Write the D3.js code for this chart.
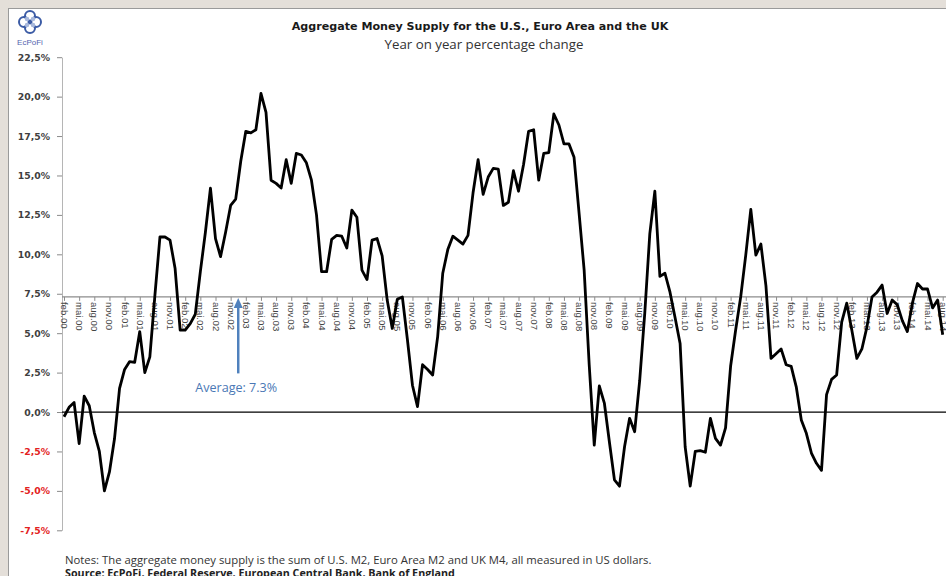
<!DOCTYPE html>
<html><head><meta charset="utf-8">
<script src="https://cdn.jsdelivr.net/npm/d3@7"></script>
<style>body{margin:0;background:#fff;} svg{display:block}</style>
</head><body>
<script>
// ---- data ----
const monthNames = ["jan","feb","mar","apr","mai","jun","jul","aug","sep","okt","nov","des"];
const firstMonth = 1;   // feb
const firstYear = 2000;
const values = [
 -0.3, 0.3, 0.6, -2.0, 1.0, 0.4, -1.3, -2.5, -5.0, -3.8, -1.7, 1.5,
 2.7, 3.2, 3.15, 5.1, 2.5, 3.5, 7.4, 11.1, 11.1, 10.9, 9.1, 5.2,
 5.2, 5.6, 6.2, 8.9, 11.4, 14.2, 11.0, 9.85, 11.4, 13.1, 13.5, 15.9,
 17.8, 17.7, 17.9, 20.2, 19.0, 14.7, 14.5, 14.2, 16.0, 14.5, 16.4, 16.3,
 15.8, 14.7, 12.5, 8.9, 8.9, 10.95, 11.2, 11.15, 10.4, 12.8, 12.35, 9.0,
 8.4, 10.9, 11.0, 9.9, 7.1, 5.3, 7.15, 7.3, 4.6, 1.7, 0.34, 3.0,
 2.7, 2.35, 4.8, 8.8, 10.3, 11.15, 10.9, 10.65, 11.2, 13.9, 16.0, 13.8,
 14.9, 15.45, 15.4, 13.1, 13.3, 15.3, 14.0, 15.7, 17.8, 17.9, 14.7, 16.4,
 16.45, 18.9, 18.2, 17.0, 17.0, 16.15, 12.6, 9.0, 3.0, -2.1, 1.65, 0.57,
 -1.9, -4.3, -4.7, -2.2, -0.4, -1.25, 2.0, 6.25, 11.3, 14.0, 8.6, 8.8,
 7.6, 6.0, 4.35, -2.2, -4.7, -2.5, -2.45, -2.55, -0.4, -1.67, -2.1, -1.0,
 2.9, 5.2, 7.3, 9.95, 12.85, 9.95, 10.65, 8.0, 3.4, 3.7, 4.0, 3.0,
 2.9, 1.6, -0.5, -1.35, -2.6, -3.25, -3.7, 1.1, 2.07, 2.35, 5.7, 6.9,
 5.2, 3.4, 4.0, 5.4, 7.3, 7.6, 8.05, 6.25, 7.1, 6.8, 5.8, 5.1,
 6.9, 8.15, 7.8, 7.8, 6.6, 7.1, 4.9
];
const categories = values.map((v, i) => {
  const m = (firstMonth + i) % 12;
  const yr = firstYear + Math.floor((firstMonth + i) / 12);
  return monthNames[m] + "." + String(yr % 100).padStart(2, "0");
});
const tickLabels = categories.filter((c, i) => i % 3 === 0);
const yTicks = [-7.5, -5, -2.5, 0, 2.5, 5, 7.5, 10, 12.5, 15, 17.5, 20, 22.5];
const average = 7.3;
const titleText = "Aggregate Money Supply for the U.S., Euro Area and the UK";
const subtitleText = "Year on year percentage change";
const notesText = "Notes: The aggregate money supply is the sum of U.S. M2, Euro Area M2 and UK M4, all measured in US dollars.";
const sourceText = "Source: EcPoFi, Federal Reserve, European Central Bank, Bank of England";

// ---- drawing ----
const W = 946, H = 576;
const svg = d3.select("body").append("svg").attr("width", W).attr("height", H);

svg.append("rect").attr("width", W).attr("height", H).attr("fill", "#e4dfd9");
svg.append("rect").attr("x", 8.5).attr("y", 8.5).attr("width", W + 10).attr("height", H + 10)
  .attr("fill", "#fff").attr("stroke", "#9a9a9a");

const x = d3.scalePoint().domain(categories).range([64, 942.7]);
const xi = d3.scaleLinear().domain([0, categories.length - 1]).range([64, 942.7]);
const y = d3.scaleLinear().domain([-7.5, 22.5]).range([530.3, 57.2]);

function fit(sel, target) {
  const n = sel.node();
  const fs = parseFloat(sel.attr("font-size"));
  const w = n.getComputedTextLength();
  if (w > 0) sel.attr("font-size", (fs * target / w).toFixed(2));
}

// title
const t1 = svg.append("text").attr("x", 480).attr("y", 30).attr("text-anchor", "middle")
  .attr("font-family", "DejaVu Sans").attr("font-weight", "bold").attr("font-size", 12)
  .attr("fill", "#1a1a1a").text(titleText);
fit(t1, 377);
const t2 = svg.append("text").attr("x", 484).attr("y", 49).attr("text-anchor", "middle")
  .attr("font-family", "Open Sans").attr("font-size", 12)
  .attr("fill", "#333").text(subtitleText);
fit(t2, 199);

// logo
const logo = svg.append("g").attr("transform", "translate(30,22)");
[[-6,0],[6,0],[0,-6],[0,6]].forEach(([dx,dy]) => {
  logo.append("circle").attr("cx", dx).attr("cy", dy).attr("r", 5)
    .attr("fill", "none").attr("stroke", "#3b5ba5").attr("stroke-width", 2);
});
[[-3,-3],[3,-3],[-3,3],[3,3]].forEach(([dx,dy]) => {
  logo.append("circle").attr("cx", dx).attr("cy", dy).attr("r", 2.2)
    .attr("fill", "#a9b9dc");
});
svg.append("text").attr("x", 30).attr("y", 45).attr("text-anchor", "middle")
  .attr("font-family", "Liberation Sans").attr("font-size", 8).attr("fill", "#5566b0").text("EcPoFi");

// y axis
const yAxis = d3.axisLeft(y).tickValues(yTicks).tickSize(5).tickSizeOuter(0).tickPadding(7)
  .tickFormat(d => d.toFixed(1).replace(".", ",") + "%");
const gy = svg.append("g").attr("transform", "translate(62,0)").call(yAxis);
gy.select(".domain").attr("stroke", "#b5b5b5");
gy.selectAll(".tick line").attr("stroke", "#8a8a8a");
gy.selectAll(".tick text").attr("font-family", "DejaVu Sans").attr("font-weight", "bold")
  .attr("font-size", 9.3).attr("fill", d => d < 0 ? "#e32222" : "#3f3f3f");

// zero line
svg.append("line").attr("x1", 62).attr("x2", W).attr("y1", y(0)).attr("y2", y(0))
  .attr("stroke", "#000").attr("stroke-width", 1.3);

// category axis crossing at the average
svg.append("line").attr("x1", 62).attr("x2", W).attr("y1", y(average)).attr("y2", y(average))
  .attr("stroke", "#8c8c8c").attr("stroke-width", 1.2);
const xAxis = d3.axisBottom(x).tickValues(tickLabels).tickSize(4).tickSizeOuter(0);
const gx = svg.append("g").attr("transform", `translate(0,${y(average)})`).call(xAxis);
gx.select(".domain").remove();
gx.selectAll(".tick line").attr("stroke", "#8c8c8c");
gx.selectAll(".tick text")
  .attr("transform", "rotate(90)").attr("x", 5).attr("y", 0).attr("dy", "0.36em")
  .style("text-anchor", "start")
  .attr("font-family", "Liberation Sans").attr("font-size", 9.6).attr("fill", "#444");

// series line
const line = d3.line().x((d, i) => x(categories[i])).y(d => y(d));
svg.append("path").datum(values).attr("d", line).attr("fill", "none")
  .attr("stroke", "#000").attr("stroke-width", 2.8).attr("stroke-linejoin", "round");

// average annotation
const ax = xi(34.5);
const blue = "#4f81bd";
svg.append("line").attr("x1", ax).attr("x2", ax).attr("y1", y(2.45)).attr("y2", y(average) + 9)
  .attr("stroke", blue).attr("stroke-width", 2.5);
svg.append("path")
  .attr("d", `M${ax},${y(average) + 1} L${ax - 4.5},${y(average) + 11} L${ax + 4.5},${y(average) + 11} Z`)
  .attr("fill", blue);
const avgT = svg.append("text").attr("x", ax - 2).attr("y", y(1.3)).attr("text-anchor", "middle")
  .attr("font-family", "Open Sans").attr("font-size", 10.5).attr("fill", "#4a78b5")
  .text("Average: " + average.toFixed(1) + "%");
fit(avgT, 82);

// notes
const n1 = svg.append("text").attr("x", 65).attr("y", 563.5)
  .attr("font-family", "Open Sans").attr("font-size", 9.5).attr("fill", "#333").text(notesText);
fit(n1, 587);
const n2 = svg.append("text").attr("x", 65).attr("y", 576.5)
  .attr("font-family", "Open Sans").attr("font-weight", "bold").attr("font-size", 9.5).attr("fill", "#222").text(sourceText);
fit(n2, 390);
</script>
</body></html>
